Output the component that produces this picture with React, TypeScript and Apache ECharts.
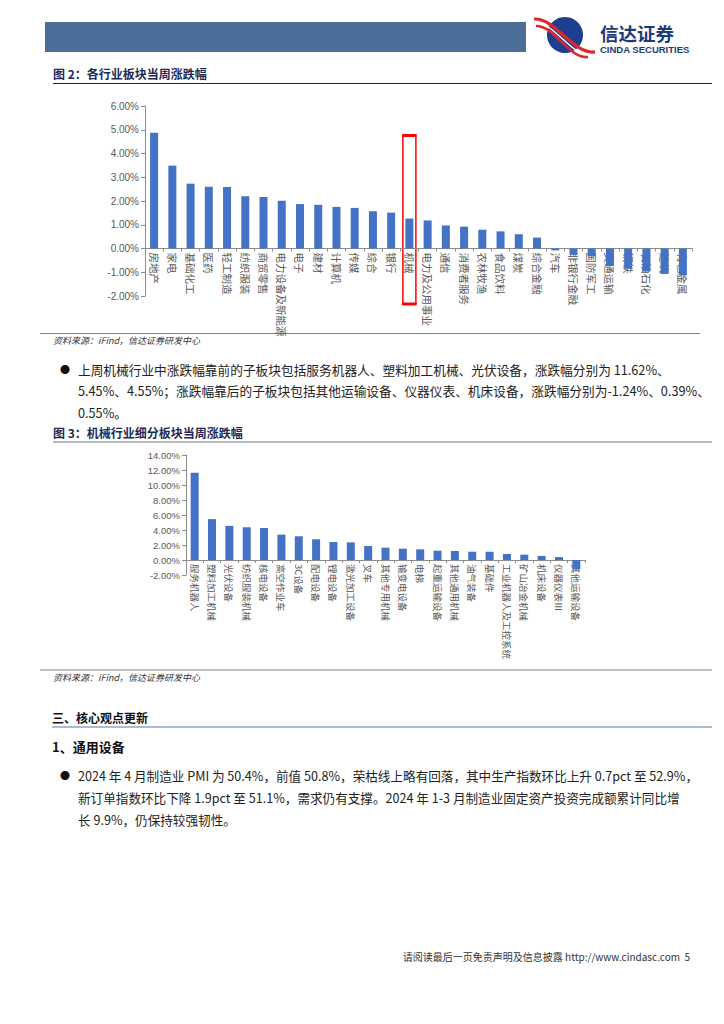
import React, { useEffect, useRef } from "react";
import * as echarts from "echarts";

const industryCats = [
  "房地产", "家电", "基础化工", "医药", "轻工制造", "纺织服装", "商贸零售", "电力设备及新能源",
  "电子", "建材", "计算机", "传媒", "综合", "银行", "机械", "电力及公用事业", "通信",
  "消费者服务", "农林牧渔", "食品饮料", "煤炭", "综合金融", "汽车", "非银行金融", "国防军工",
  "交通运输", "钢铁", "石油石化", "建筑", "有色金属",
];
const industryVals = [
  4.87, 3.49, 2.73, 2.6, 2.59, 2.2, 2.17, 2.01, 1.87, 1.84, 1.75, 1.71, 1.57, 1.51, 1.26, 1.18,
  0.97, 0.92, 0.79, 0.72, 0.6, 0.46, -0.08, -0.27, -0.33, -0.74, -0.85, -0.97, -1.07, -1.13,
];
const machCats = [
  "服务机器人", "塑料加工机械", "光伏设备", "纺织服装机械", "核电设备", "高空作业车", "3C设备",
  "配电设备", "锂电设备", "激光加工设备", "叉车", "其他专用机械", "输变电设备", "电梯",
  "起重运输设备", "其他通用机械", "油气装备", "基础件", "工业机器人及工控系统", "矿山冶金机械",
  "机床设备", "仪器仪表Ⅲ", "其他运输设备",
];
const machVals = [
  11.62, 5.45, 4.55, 4.36, 4.27, 3.38, 3.16, 2.76, 2.4, 2.35, 1.87, 1.64, 1.51, 1.42, 1.24, 1.2,
  1.11, 1.1, 0.8, 0.71, 0.55, 0.39, -1.24,
];
const highlightCat = "机械";

const para1 = [
  "上周机械行业中涨跌幅靠前的子板块包括服务机器人、塑料加工机械、光伏设备，涨跌幅分别为 11.62%、",
  "5.45%、4.55%；涨跌幅靠后的子板块包括其他运输设备、仪器仪表、机床设备，涨跌幅分别为-1.24%、0.39%、",
  "0.55%。",
];
const para2 = [
  "2024 年 4 月制造业 PMI 为 50.4%，前值 50.8%，荣枯线上略有回落，其中生产指数环比上升 0.7pct 至 52.9%，",
  "新订单指数环比下降 1.9pct 至 51.1%，需求仍有支撑。2024 年 1-3 月制造业固定资产投资完成额累计同比增",
  "长 9.9%，仍保持较强韧性。",
];

const CJK = "'Noto Sans CJK SC', sans-serif";
const LAT = "'Liberation Sans', Arial, sans-serif";
const BAR = "#4472C4";
const AXIS = "#8c8c8c";
const LABEL = "#595959";

const G1 = { left: 145, right: 32, top: 106, bottom: 1024 - 296 };
const G2 = { left: 186, right: 139, top: 455, bottom: 1024 - 575 };
const Y1 = { min: -2, max: 6, interval: 1 };
const Y2 = { min: -2, max: 14, interval: 2 };

function txt(x: number, y: number, text: string, opts: any = {}) {
  return {
    type: "text",
    x,
    y,
    style: {
      text,
      fill: opts.fill || "#222",
      fontSize: opts.size || 12,
      fontFamily: opts.family || CJK,
      fontWeight: opts.bold ? "bold" : "normal",
      fontStyle: opts.italic ? "italic" : "normal",
      align: opts.align || "left",
      verticalAlign: "middle",
      lineHeight: opts.size ? opts.size * 1.05 : 12.6,
    },
  };
}
function hline(x1: number, x2: number, y: number, color: string, w: number) {
  return { type: "line", shape: { x1, y1: y, x2, y2: y }, style: { stroke: color, lineWidth: w } };
}

function buildGraphics(extra: any[]) {
  const g: any[] = [];
  g.push({ type: "rect", shape: { x: 45, y: 22, width: 481, height: 30 }, style: { fill: "#4b6f98" } });
  g.push({ type: "circle", shape: { cx: 565, cy: 35, r: 18 }, style: { fill: "#1e3f8f" } });
  g.push({ type: "bezierCurve", shape: { x1: 534, y1: 19, cpx1: 556, cpy1: 18, cpx2: 572, cpy2: 54, x2: 595, y2: 52 }, style: { stroke: "#e0262b", lineWidth: 3.2, fill: null } });
  g.push({ type: "bezierCurve", shape: { x1: 534, y1: 23, cpx1: 556, cpy1: 22, cpx2: 570, cpy2: 57, x2: 592, y2: 55 }, style: { stroke: "#ffffff", lineWidth: 1.4, fill: null } });
  g.push({ type: "bezierCurve", shape: { x1: 536, y1: 26, cpx1: 556, cpy1: 26, cpx2: 568, cpy2: 59, x2: 588, y2: 57 }, style: { stroke: "#e0262b", lineWidth: 2.6, fill: null } });
  g.push(txt(600, 32.5, "信达证券", { bold: true, size: 18.5, fill: "#1e3a78" }));
  g.push(txt(600, 49.5, "CINDA SECURITIES", { bold: true, size: 9.5, fill: "#1e3a78", family: LAT }));

  g.push(txt(53, 73, "图 2：各行业板块当周涨跌幅", { bold: true, size: 12, fill: "#1c2b55" }));
  g.push(hline(53, 712, 83.5, "#222", 1.2));
  g.push(hline(40, 700, 333.5, "#808080", 1));
  g.push(txt(53, 340, "资料来源：iFind，信达证券研发中心", { italic: true, size: 9, fill: "#333" }));

  g.push(txt(60, 369, "●", { size: 10, fill: "#111" }));
  para1.forEach((l, i) => g.push(txt(78, 369 + i * 21.5, l, { size: 12.7, fill: "#222" })));

  g.push(txt(53, 432, "图 3：机械行业细分板块当周涨跌幅", { bold: true, size: 12, fill: "#1c2b55" }));
  g.push(hline(53, 712, 442, "#777", 1.2));
  g.push(hline(40, 712, 670, "#808080", 1));
  g.push(txt(53, 677, "资料来源：iFind，信达证券研发中心", { italic: true, size: 9, fill: "#333" }));

  g.push(txt(52, 717, "三、核心观点更新", { bold: true, size: 12, fill: "#111" }));
  g.push(hline(52, 712, 727, "#a9bcd3", 2));
  g.push(txt(52, 746, "1、通用设备", { bold: true, size: 13, fill: "#111" }));
  g.push(txt(60, 775, "●", { size: 10, fill: "#111" }));
  para2.forEach((l, i) => g.push(txt(78, 775 + i * 22, l, { size: 12.6, fill: "#222" })));

  g.push(txt(690, 956, "请阅读最后一页免责声明及信息披露 http://www.cindasc.com  5", { size: 10, fill: "#333", align: "right" }));
  return g.concat(extra);
}

function axisY(y: any, size: number) {
  return {
    type: "value",
    min: y.min,
    max: y.max,
    interval: y.interval,
    splitLine: { show: false },
    axisLine: { show: true, lineStyle: { color: AXIS, width: 1 } },
    axisTick: { show: true, length: 4, lineStyle: { color: AXIS } },
    axisLabel: {
      color: LABEL,
      fontSize: size,
      fontFamily: LAT,
      margin: 6,
      formatter: (v: number) => v.toFixed(2) + "%",
    },
  };
}
function axisX(cats: string[], size: number, grid: any, y: any) {
  const h = 1024 - grid.top - grid.bottom;
  const zeroOff = ((0 - y.min) / (y.max - y.min)) * h;
  return {
    type: "category",
    data: cats,
    position: "bottom",
    offset: -zeroOff,
    axisLine: { show: true, onZero: false, lineStyle: { color: AXIS, width: 1 } },
    axisTick: { show: true, length: 3, interval: 0, lineStyle: { color: AXIS } },
    axisLabel: {
      interval: 0,
      rotate: -90,
      verticalAlign: "middle",
      color: LABEL,
      fontSize: size,
      fontFamily: CJK,
      margin: 4,
    },
  };
}

export default function App() {
  const ref = useRef<HTMLDivElement>(null);
  useEffect(() => {
    document.body.style.margin = "0";
    const chart = echarts.init(ref.current!, undefined, { renderer: "svg" });
    const base = (extra: any[]) => ({
      animation: false,
      backgroundColor: "#ffffff",
      grid: [
        { ...G1, containLabel: false },
        { ...G2, containLabel: false },
      ],
      xAxis: [
        { ...axisX(industryCats, 10.5, G1, Y1), gridIndex: 0 },
        { ...axisX(machCats, 9.5, G2, Y2), gridIndex: 1 },
      ],
      yAxis: [
        { ...axisY(Y1, 10), gridIndex: 0 },
        { ...axisY(Y2, 9.5), gridIndex: 1 },
      ],
      series: [
        { type: "bar", xAxisIndex: 0, yAxisIndex: 0, data: industryVals, barWidth: 8, itemStyle: { color: BAR } },
        { type: "bar", xAxisIndex: 1, yAxisIndex: 1, data: machVals, barWidth: 8, itemStyle: { color: BAR } },
      ],
      graphic: buildGraphics(extra),
    });
    chart.setOption(base([]));
    const p = chart.convertToPixel({ xAxisIndex: 0, yAxisIndex: 0 }, [highlightCat, 0]) as number[];
    const cx = p[0];
    const x1 = cx - 6.5, x2 = cx + 6.5, yT = 135.5, yB = 304;
    const box = [
      { type: "line", shape: { x1, y1: yT, x2: x1, y2: yB }, style: { stroke: "#ff0000", lineWidth: 1.5 } },
      { type: "line", shape: { x1: x2, y1: yT, x2: x2, y2: yB }, style: { stroke: "#ff0000", lineWidth: 1.5 } },
      { type: "line", shape: { x1: x1 - 0.75, y1: yT, x2: x2 + 0.75, y2: yT }, style: { stroke: "#ff0000", lineWidth: 3 } },
      { type: "line", shape: { x1: x1 - 0.75, y1: yB, x2: x2 + 0.75, y2: yB }, style: { stroke: "#ff0000", lineWidth: 3 } },
    ];
    chart.setOption(base(box), { notMerge: true });
    return () => chart.dispose();
  }, []);
  return (
    <div
      ref={ref}
      style={{ position: "absolute", left: 0, top: 0, width: 724, height: 1024, background: "#fff" }}
    />
  );
}
